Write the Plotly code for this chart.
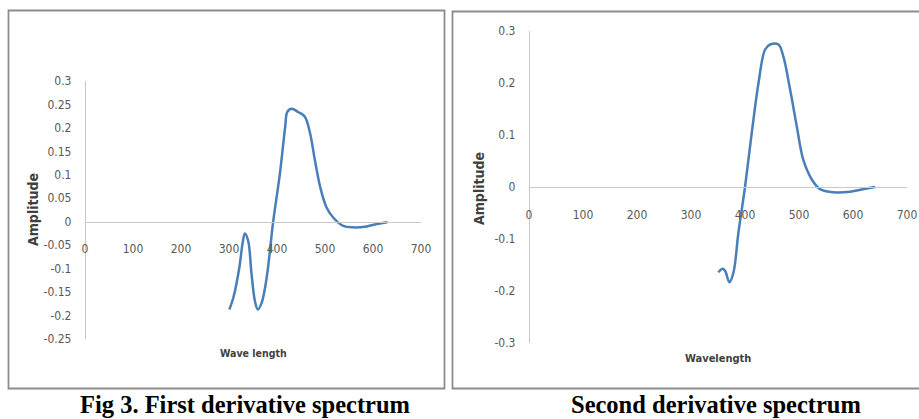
import plotly.graph_objects as go

# First derivative spectrum
wl1 = [300.7, 309, 321.5, 328, 333, 340, 347, 354, 360, 368, 378.5, 392, 406, 417, 421.5, 430.5,
       444, 458, 469, 479, 490, 503, 517, 538, 559, 587, 608, 630]
amp1 = [-0.187, -0.162, -0.098, -0.048, -0.025, -0.041, -0.112, -0.169, -0.187, -0.173, -0.119, 0.0,
        0.102, 0.202, 0.234, 0.241, 0.234, 0.224, 0.188, 0.131, 0.074, 0.031, 0.009, -0.009,
        -0.012, -0.010, -0.005, -0.001]

# Second derivative spectrum
wl2 = [350.6, 358.7, 363.6, 371, 378.5, 387.8, 400, 412.5, 425, 437, 446.5, 462, 471, 483.6, 496,
       508, 524, 539, 564, 595, 620, 641]
amp2 = [-0.164, -0.157, -0.162, -0.183, -0.165, -0.088, 0.0, 0.104, 0.2, 0.264, 0.274, 0.274, 0.251,
        0.187, 0.116, 0.052, 0.014, -0.004, -0.010, -0.009, -0.004, 0.0]

x_ticks = [0, 100, 200, 300, 400, 500, 600, 700]
x_ticktext = ["0", "100", "200", "300", "400", "500", "600", "700"]
y1_ticks = [0.3, 0.25, 0.2, 0.15, 0.1, 0.05, 0, -0.05, -0.1, -0.15, -0.2, -0.25]
y1_ticktext = ["0.3", "0.25", "0.2", "0.15", "0.1", "0.05", "0", "-0.05", "-0.1", "-0.15", "-0.2", "-0.25"]
y2_ticks = [0.3, 0.2, 0.1, 0, -0.1, -0.2, -0.3]
y2_ticktext = ["0.3", "0.2", "0.1", "0", "-0.1", "-0.2", "-0.3"]

W, H = 919, 419
def px(v):
    return v / W
def py(v):
    return 1 - v / H

LINE = "#4a7ebb"
AXC = "#c8c8c8"
FAM = "DejaVu Sans Condensed, Liberation Sans Narrow, Arial"
TICKF = dict(family=FAM, size=12, color="#595959")
SERIF = dict(family="Liberation Serif, Times New Roman, serif", size=24.5, color="black")

fig = go.Figure()
fig.add_trace(go.Scatter(x=wl1, y=amp1, mode="lines", line=dict(color=LINE, width=2.5, shape="spline"),
                         xaxis="x", yaxis="y", showlegend=False, hoverinfo="x+y"))
fig.add_trace(go.Scatter(x=wl2, y=amp2, mode="lines", line=dict(color=LINE, width=2.5, shape="spline"),
                         xaxis="x2", yaxis="y2", showlegend=False, hoverinfo="x+y"))

y1_dom = [py(339), py(81)]
y2_dom = [py(343), py(31)]
# position of y = 0 in paper coords
y1_zero = y1_dom[0] + (0 - (-0.25)) / 0.55 * (y1_dom[1] - y1_dom[0])
y2_zero = y2_dom[0] + 0.5 * (y2_dom[1] - y2_dom[0])

common_x = dict(range=[0, 700], showgrid=False, zeroline=False, showline=True, linecolor=AXC,
                linewidth=1.3, ticks="", tickvals=x_ticks, ticktext=x_ticktext, tickfont=TICKF,
                anchor="free", automargin=False, ticklabelstandoff=16)
common_y = dict(showgrid=False, zeroline=False, showline=True, linecolor=AXC, linewidth=1.3,
                ticks="", tickfont=TICKF, anchor="free", automargin=False, ticklabelstandoff=11)

fig.update_layout(
    width=W, height=H, margin=dict(l=0, r=0, t=0, b=0),
    paper_bgcolor="white", plot_bgcolor="rgba(0,0,0,0)",
    xaxis=dict(domain=[px(85), px(421)], position=y1_zero, **common_x),
    yaxis=dict(domain=y1_dom, range=[-0.25, 0.3], position=px(85), tickvals=y1_ticks,
               ticktext=y1_ticktext, **common_y),
    xaxis2=dict(domain=[px(529), px(907)], position=y2_zero, **common_x),
    yaxis2=dict(domain=y2_dom, range=[-0.3, 0.3], position=px(529), tickvals=y2_ticks,
                ticktext=y2_ticktext, **common_y),
    shapes=[
        dict(type="rect", xref="paper", yref="paper", x0=px(8.5), x1=px(444.5), y0=py(388.5), y1=py(10.5),
             line=dict(color="#8c8c8c", width=1.8)),
        dict(type="rect", xref="paper", yref="paper", x0=px(452.5), x1=px(925), y0=py(388.5), y1=py(11.5),
             line=dict(color="#8c8c8c", width=1.8)),
    ],
    annotations=[
        dict(text="<b>Amplitude</b>", x=px(33), y=py(210), xref="paper", yref="paper", textangle=-90,
             showarrow=False, font=dict(family=FAM, size=14, color="#404040"),
             xanchor="center", yanchor="middle"),
        dict(text="<b>Wave length</b>", x=px(253), y=py(353), xref="paper", yref="paper",
             showarrow=False, font=dict(family=FAM, size=10.5, color="#404040"),
             xanchor="center", yanchor="middle"),
        dict(text="<b>Amplitude</b>", x=px(479), y=py(188), xref="paper", yref="paper", textangle=-90,
             showarrow=False, font=dict(family=FAM, size=14, color="#404040"),
             xanchor="center", yanchor="middle"),
        dict(text="<b>Wavelength</b>", x=px(718), y=py(358), xref="paper", yref="paper",
             showarrow=False, font=dict(family=FAM, size=11, color="#404040"),
             xanchor="center", yanchor="middle"),
        dict(text="<b>Fig 3. First derivative spectrum</b>", x=px(245), y=py(404), xref="paper", yref="paper",
             showarrow=False, font=SERIF, xanchor="center", yanchor="middle"),
        dict(text="<b>Second derivative spectrum</b>", x=px(716), y=py(404), xref="paper", yref="paper",
             showarrow=False, font=SERIF, xanchor="center", yanchor="middle"),
    ],
)

fig.write_html("out.html", config={"displayModeBar": False},
               post_script="document.body.style.margin='0';document.body.style.overflow='hidden';")
